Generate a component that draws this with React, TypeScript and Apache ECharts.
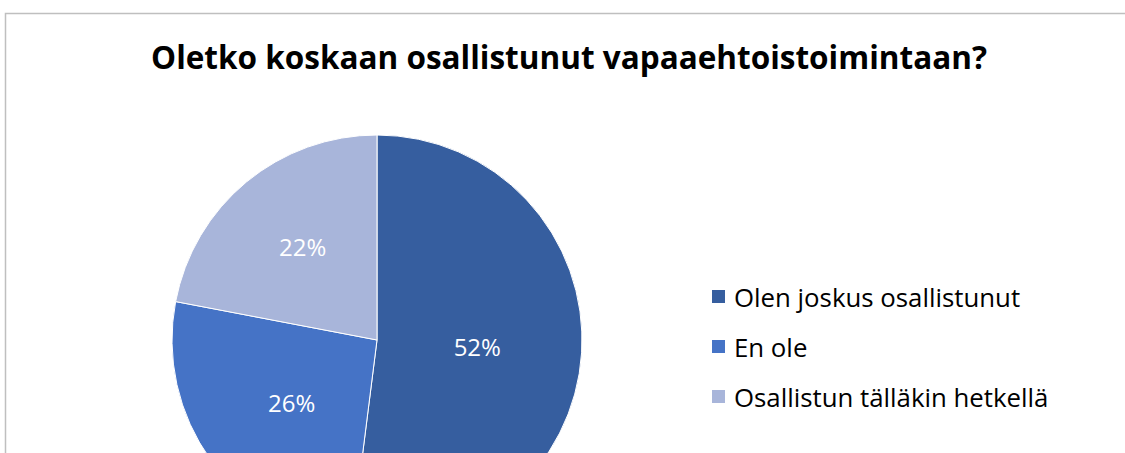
import React, { useEffect, useRef } from "react";
import * as echarts from "echarts";

const titleText = "Oletko koskaan osallistunut vapaaehtoistoimintaan?";
const categories = ["Olen joskus osallistunut", "En ole", "Osallistun tälläkin hetkellä"];
const values = [52, 26, 22];
const colors = ["#365E9F", "#4573C6", "#A8B5DA"];

export default function App() {
  const ref = useRef<HTMLDivElement>(null);
  useEffect(() => {
    document.body.style.margin = "0";
    const chart = echarts.init(ref.current!, null, { renderer: "svg" });
    chart.setOption({
      animation: false,
      backgroundColor: "#ffffff",
      title: {
        text: titleText,
        left: 564,
        textAlign: "center",
        top: 35,
        textStyle: {
          fontFamily: "Open Sans",
          fontWeight: "bold",
          fontSize: 31.5,
          color: "#000000",
        },
      },
      graphic: [
        {
          type: "rect",
          shape: { x: 5.5, y: 13.5, width: 1300, height: 600 },
          style: { fill: "none", stroke: "#BFBFBF", lineWidth: 1.5 },
          silent: true,
        },
      ],
      legend: {
        orient: "vertical",
        left: 710,
        top: 283,
        padding: 0,
        itemWidth: 15,
        itemHeight: 15,
        itemGap: 23,
        icon: "rect",
        textStyle: {
          fontFamily: "Open Sans",
          fontSize: 25.8,
          lineHeight: 27,
          color: "#000000",
          padding: [0, 0, 0, 3],
        },
        data: categories,
      },
      series: [
        {
          type: "pie",
          center: [377, 340],
          radius: [0, 205],
          startAngle: 90,
          clockwise: true,
          color: colors,
          label: {
            show: true,
            position: "inside",
            formatter: "{c}%",
            color: "#ffffff",
            fontFamily: "Open Sans",
            fontSize: 24,
            lineHeight: 24,
          },
          labelLine: { show: false },
          itemStyle: { borderColor: "#ffffff", borderWidth: 1 },
          emphasis: { disabled: true },
          data: categories.map((c, i) => ({
            name: c,
            value: values[i],
            label:
              i === 2
                ? { formatter: "{c}%\n ", padding: [0, 14, 0, 0] }
                : i === 0
                ? { padding: [0, 10, 0, 0] }
                : undefined,
          })),
        },
      ],
    });
    return () => chart.dispose();
  }, []);
  return <div ref={ref} style={{ width: 1125, height: 453 }} />;
}
